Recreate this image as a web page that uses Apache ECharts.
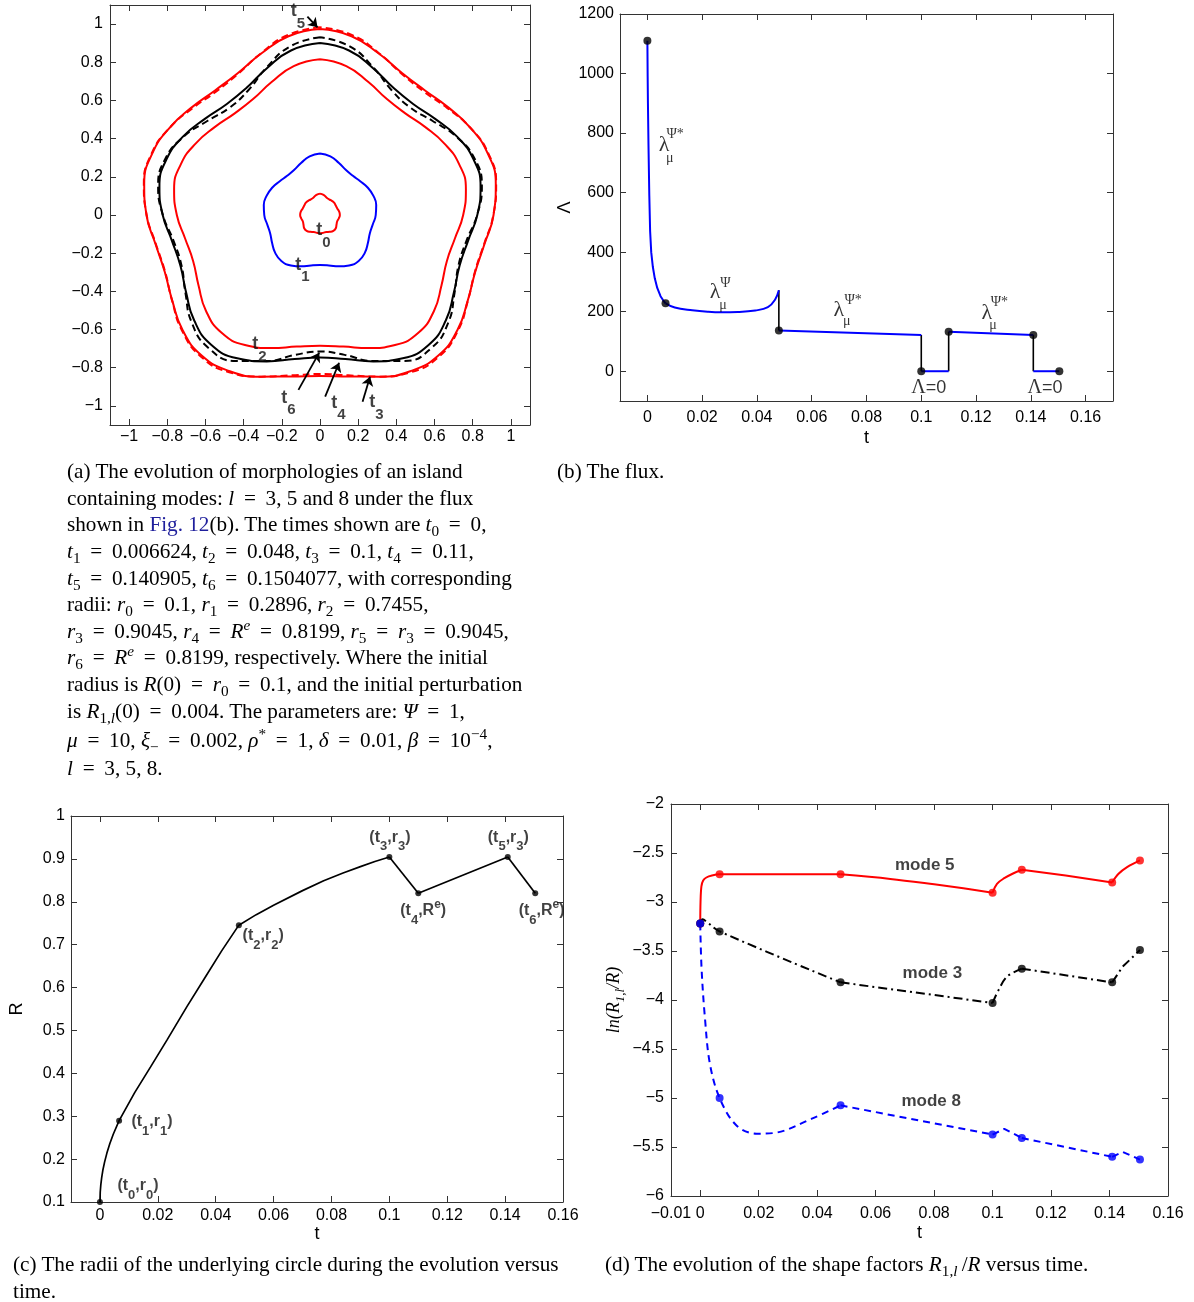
<!DOCTYPE html>
<html>
<head>
<meta charset="utf-8">
<script src="https://cdn.jsdelivr.net/npm/echarts@6/dist/echarts.min.js"></script>
<style>
  body { margin: 0; background: #fff; }
  #chart { position: absolute; left: 0; top: 0; width: 1194px; height: 1302px; }
  .cap { position: absolute; font-family: 'Liberation Serif', 'Times New Roman', serif; font-size: 21.2px;
         color: #000; white-space: nowrap; line-height: 26px; }
  .cap i { font-style: italic; }
  .cap sub, .cap sup { font-size: 0.72em; line-height: 0; }
  .cap sub { vertical-align: -0.32em; }
  .cap sup { vertical-align: 0.55em; }
  .cap .eq { margin: 0 0.46em; }
  .fig { color: #1f1f9c; }
</style>
</head>
<body>
<div id="chart"></div>

<div class="cap" style="left:67px;top:458px">(a) The evolution of morphologies of an island</div>
<div class="cap" style="left:67px;top:485px">containing modes: <i>l</i> = 3, 5 and 8 under the flux</div>
<div class="cap" style="left:67px;top:511px">shown in <span class="fig">Fig. 12</span>(b). The times shown are <i>t</i><sub>0</sub> = 0,</div>
<div class="cap" style="left:67px;top:538px"><i>t</i><sub>1</sub> = 0.006624, <i>t</i><sub>2</sub> = 0.048, <i>t</i><sub>3</sub> = 0.1, <i>t</i><sub>4</sub> = 0.11,</div>
<div class="cap" style="left:67px;top:565px"><i>t</i><sub>5</sub> = 0.140905, <i>t</i><sub>6</sub> = 0.1504077, with corresponding</div>
<div class="cap" style="left:67px;top:591px">radii: <i>r</i><sub>0</sub> = 0.1, <i>r</i><sub>1</sub> = 0.2896, <i>r</i><sub>2</sub> = 0.7455,</div>
<div class="cap" style="left:67px;top:618px"><i>r</i><sub>3</sub> = 0.9045, <i>r</i><sub>4</sub> = <i>R</i><sup><i>e</i></sup> = 0.8199, <i>r</i><sub>5</sub> = <i>r</i><sub>3</sub> = 0.9045,</div>
<div class="cap" style="left:67px;top:644px"><i>r</i><sub>6</sub> = <i>R</i><sup><i>e</i></sup> = 0.8199, respectively. Where the initial</div>
<div class="cap" style="left:67px;top:671px">radius is <i>R</i>(0) = <i>r</i><sub>0</sub> = 0.1, and the initial perturbation</div>
<div class="cap" style="left:67px;top:698px">is <i>R</i><sub>1,<i>l</i></sub>(0) = 0.004. The parameters are: <i>Ψ</i> = 1,</div>
<div class="cap" style="left:67px;top:727px"><i>μ</i> = 10, <i>ξ</i><sub>−</sub> = 0.002, <i>ρ</i><sup>*</sup> = 1, <i>δ</i> = 0.01, <i>β</i> = 10<sup>−4</sup>,</div>
<div class="cap" style="left:67px;top:755px"><i>l</i> = 3, 5, 8.</div>

<div class="cap" style="left:557px;top:458px">(b) The flux.</div>

<div class="cap" style="left:13px;top:1251px">(c) The radii of the underlying circle during the evolution versus</div>
<div class="cap" style="left:13px;top:1278px">time.</div>

<div class="cap" style="left:605px;top:1251px">(d) The evolution of the shape factors <i>R</i><sub>1,<i>l</i></sub>&thinsp;/<i>R</i> versus time.</div>

<script>
// typeset "=" with math spacing in the captions
document.querySelectorAll('.cap').forEach(el => { el.innerHTML = el.innerHTML.replace(/ = /g, '<span class="eq">=</span>'); });

// ======================= DATA =======================
// (a) island morphologies: radius vs polar angle (deg, counter-clockwise from the top)
const angA = [0,10,20,30,40,50,60,70,80,90,100,110,120,130,140,150,160,170,180,190,200,210,220,230,240,250,260,270,280,290,300,310,320,330,340,350,360];
const rT0 = [0.112,0.107,0.098,0.095,0.097,0.098,0.096,0.097,0.102,0.104,0.100,0.096,0.100,0.108,0.109,0.102,0.095,0.095,0.096,0.095,0.095,0.102,0.109,0.108,0.100,0.096,0.100,0.104,0.102,0.097,0.096,0.098,0.097,0.095,0.098,0.107,0.112];
const rT1 = [0.322,0.312,0.290,0.272,0.268,0.275,0.288,0.297,0.299,0.292,0.281,0.278,0.290,0.307,0.315,0.305,0.286,0.268,0.262,0.268,0.286,0.305,0.315,0.307,0.290,0.278,0.281,0.292,0.299,0.297,0.288,0.275,0.268,0.272,0.290,0.312,0.322];
const rT2 = [0.816,0.792,0.741,0.701,0.695,0.718,0.751,0.776,0.776,0.750,0.717,0.707,0.735,0.780,0.804,0.786,0.742,0.700,0.685,0.700,0.742,0.786,0.804,0.780,0.735,0.707,0.717,0.750,0.776,0.776,0.751,0.718,0.695,0.701,0.741,0.792,0.816];
const rT3 = [0.974,0.951,0.900,0.859,0.853,0.877,0.911,0.936,0.935,0.909,0.875,0.866,0.894,0.939,0.962,0.945,0.901,0.859,0.843,0.859,0.901,0.945,0.962,0.939,0.894,0.866,0.875,0.909,0.935,0.936,0.911,0.877,0.853,0.859,0.900,0.951,0.974];
const rT4 = [0.901,0.875,0.817,0.769,0.759,0.785,0.826,0.855,0.854,0.824,0.787,0.778,0.810,0.860,0.887,0.867,0.816,0.766,0.746,0.766,0.816,0.867,0.887,0.860,0.810,0.778,0.787,0.824,0.854,0.855,0.826,0.785,0.759,0.769,0.817,0.875,0.901];
const rT5 = [0.983,0.958,0.902,0.855,0.845,0.871,0.911,0.939,0.937,0.908,0.873,0.864,0.895,0.943,0.969,0.951,0.901,0.853,0.833,0.853,0.901,0.951,0.969,0.943,0.895,0.864,0.873,0.908,0.937,0.939,0.911,0.871,0.845,0.855,0.902,0.958,0.983];
const rT6 = [0.931,0.897,0.821,0.753,0.735,0.768,0.823,0.862,0.861,0.823,0.779,0.772,0.814,0.877,0.909,0.883,0.814,0.744,0.715,0.744,0.814,0.883,0.909,0.877,0.814,0.772,0.779,0.823,0.861,0.862,0.823,0.768,0.735,0.753,0.821,0.897,0.931];
const ticksA = [-1,-0.8,-0.6,-0.4,-0.2,0,0.2,0.4,0.6,0.8,1];
// labels "t_i" in (a): x, y, subscript
const labA = [[-0.116,1.039,'5'],[0.018,-0.110,'0'],[-0.092,-0.289,'1'],[-0.317,-0.706,'2'],[-0.166,-0.986,'6'],[0.096,-1.012,'4'],[0.296,-1.010,'3']];
// arrows in (a): x1, y1, x2, y2
const arrA = [[-0.113,-0.916,-0.004,-0.721],[0.027,-0.951,0.100,-0.774],[0.223,-0.978,0.262,-0.847],[-0.066,1.039,-0.013,0.983]];

// key times
const keyT = [0, 0.006624, 0.048, 0.1, 0.11, 0.140905, 0.1504077];

// (b) flux
const fluxT1 = [0, 0.0001, 0.0002, 0.0004, 0.0007, 0.001, 0.0014, 0.002, 0.0027, 0.0036, 0.0048, 0.0057, 0.006624];
const fluxV1 = [1110, 990, 900, 760, 590, 470, 400, 350, 312, 280, 252, 239, 228];
const fluxT2 = [0.006624, 0.01, 0.0164, 0.022, 0.0268, 0.033, 0.0394, 0.044, 0.0466, 0.048];
const fluxV2 = [228, 214, 205, 200, 198, 199, 204, 215, 240, 272];
const fluxT3 = [0.048, 0.1];          const fluxV3 = [137, 122];
const fluxT4 = [0.1, 0.11];           const fluxV4 = [0, 0];
const fluxT5 = [0.11, 0.140905];      const fluxV5 = [133, 122];
const fluxT6 = [0.140905, 0.1504077]; const fluxV6 = [0, 0];
const jumpT = [0.048, 0.1, 0.11, 0.140905];
const jumpFrom = [272, 122, 0, 122];
const jumpTo = [137, 0, 133, 0];
const fluxKey = [1110, 228, 137, 0, 133, 122, 0];
const ticksBX = [0,0.02,0.04,0.06,0.08,0.1,0.12,0.14,0.16];
const ticksBY = [0,200,400,600,800,1000,1200];

// (c) radius of the underlying circle
const radT = [0, 0.0001, 0.0003, 0.0006, 0.001, 0.0016, 0.0024, 0.0034, 0.0046, 0.006624, 0.012, 0.0175, 0.0232, 0.03, 0.036, 0.042, 0.048, 0.054, 0.06, 0.07, 0.0773, 0.084, 0.09, 0.095, 0.1, 0.11, 0.140905, 0.1504077];
const radR = [0.1, 0.123, 0.14, 0.157, 0.174, 0.193, 0.214, 0.236, 0.258, 0.2896, 0.355, 0.415, 0.478, 0.555, 0.62, 0.685, 0.7455, 0.770, 0.792, 0.826, 0.849, 0.867, 0.882, 0.894, 0.9045, 0.8199, 0.9045, 0.8199];
const radKey = [0.1, 0.2896, 0.7455, 0.9045, 0.8199, 0.9045, 0.8199];
const ticksCY = [0.1,0.2,0.3,0.4,0.5,0.6,0.7,0.8,0.9,1];

// (d) shape factors ln(R_{1,l}/R)
const m5T = [0, 0.0001, 0.0004, 0.001, 0.0021, 0.004, 0.006624, 0.048, 0.065, 0.08, 0.09, 0.1, 0.1015, 0.104, 0.107, 0.11, 0.125, 0.140905, 0.143, 0.146, 0.1504077];
const m5V = [-3.22, -3.0, -2.84, -2.78, -2.75, -2.73, -2.718, -2.718, -2.765, -2.82, -2.86, -2.905, -2.814, -2.757, -2.709, -2.671, -2.73, -2.80, -2.715, -2.645, -2.576];
const m3T = [0, 0.0008, 0.0025, 0.006624, 0.048, 0.1, 0.102, 0.105, 0.11, 0.140905, 0.1445, 0.1504077];
const m3V = [-3.22, -3.175, -3.21, -3.30, -3.82, -4.03, -3.90, -3.76, -3.68, -3.82, -3.66, -3.49];
const m8T = [0, 0.00044, 0.0016, 0.0033, 0.006624, 0.0124, 0.0193, 0.0252, 0.0382, 0.048, 0.1, 0.104, 0.11, 0.140905, 0.1445, 0.1504077];
const m8V = [-3.22, -3.67, -4.18, -4.65, -5.0, -5.28, -5.364, -5.357, -5.21, -5.075, -5.373, -5.315, -5.408, -5.60, -5.55, -5.628];
const ticksDX = [-0.01,0,0.02,0.04,0.06,0.08,0.1,0.12,0.14,0.16];
const ticksDY = [-6,-5.5,-5,-4.5,-4,-3.5,-3,-2.5,-2];
const breaksT = [0.048, 0.1, 0.11, 0.140905];

// ======================= STYLE =======================
const SANS = "'Liberation Sans', Arial, Helvetica, sans-serif";
const SERIF = "'Liberation Serif', 'Times New Roman', serif";
const AX = '#333';
const RED = '#ff0000', BLUE = '#0000ff', BLACK = '#000000';
const minus = v => (v < 0 ? '\u2212' : '') + Math.abs(v);

function axisPair(kind, gridIndex, min, max, tickVals, labelVals, labelOpt, nameOpt) {
  const base = {
    type: 'value', gridIndex, min, max,
    axisLine: { show: true, onZero: false, lineStyle: { color: AX, width: 1 } },
    axisTick: { show: true, inside: true, length: 6, customValues: tickVals, lineStyle: { color: AX, width: 1 } },
    splitLine: { show: false }
  };
  const main = Object.assign({}, base, {
    position: kind === 'x' ? 'bottom' : 'left',
    axisLabel: Object.assign({ show: true, customValues: labelVals, formatter: minus, color: '#000',
      fontFamily: SANS, fontSize: 16 }, labelOpt || {})
  }, nameOpt || {});
  const mirror = Object.assign({}, base, { position: kind === 'x' ? 'top' : 'right', axisLabel: { show: false } });
  return [main, mirror];
}

const nameStyle = { fontFamily: SANS, fontSize: 18, color: '#000' };

const xAxes = [].concat(
  axisPair('x', 0, -1.1, 1.1, ticksA, ticksA, { margin: 4 }),
  axisPair('x', 1, -0.01, 0.17, ticksBX, ticksBX, { margin: 9 },
    { name: 't', nameLocation: 'middle', nameGap: 28, nameTextStyle: nameStyle }),
  axisPair('x', 2, -0.01, 0.16, ticksBX, ticksBX, { margin: 6 },
    { name: 't', nameLocation: 'middle', nameGap: 22, nameTextStyle: nameStyle }),
  axisPair('x', 3, -0.01, 0.16, ticksDX, ticksDX, { margin: 10 },
    { name: 't', nameLocation: 'middle', nameGap: 28, nameTextStyle: nameStyle })
);
const yAxes = [].concat(
  axisPair('y', 0, -1.1, 1.1, ticksA, ticksA, { margin: 7 }),
  axisPair('y', 1, -100, 1200, ticksBY, ticksBY, { margin: 6 },
    { name: 'Λ', nameLocation: 'middle', nameGap: 46, nameRotate: 90, nameTextStyle: nameStyle }),
  axisPair('y', 2, 0.1, 1, ticksCY, ticksCY, { margin: 6 },
    { name: 'R', nameLocation: 'middle', nameGap: 45, nameRotate: 90, nameTextStyle: nameStyle }),
  axisPair('y', 3, -6, -2, ticksDY, ticksDY, { margin: 7 },
    { name: '{i|ln(R}{s|1,l}{i|/R)}', nameLocation: 'middle', nameGap: 44, nameRotate: 90,
      nameTextStyle: { rich: {
        i: { fontFamily: SERIF, fontStyle: 'italic', fontSize: 18, color: '#000', verticalAlign: 'top' },
        s: { fontFamily: SERIF, fontStyle: 'italic', fontSize: 13, color: '#000', verticalAlign: 'top', padding: [9, 0, 0, 0] }
      } } })
);

const RICH = {
  t:  { fontFamily: SANS, fontSize: 18, fontWeight: 'bold', color: '#111', verticalAlign: 'top' },
  ts: { fontFamily: SANS, fontSize: 15, fontWeight: 'bold', color: '#111', verticalAlign: 'top', padding: [14, 0, 0, 0] },
  b:  { fontFamily: SANS, fontSize: 16, fontWeight: 'bold', color: '#111', verticalAlign: 'top', padding: [4, 0, 0, 0] },
  bs: { fontFamily: SANS, fontSize: 13, fontWeight: 'bold', color: '#111', verticalAlign: 'top', padding: [15, 0, 0, 0] },
  bp: { fontFamily: SANS, fontSize: 12, fontWeight: 'bold', color: '#111', verticalAlign: 'top' },
  lam: { fontFamily: SERIF, fontSize: 22, color: '#000' },
  gs: { fontFamily: SERIF, fontSize: 14, color: '#000' },
  gL: { fontFamily: SERIF, fontSize: 20, color: '#000' },
  n:  { fontFamily: SANS, fontSize: 18, color: '#000' },
  md: { fontFamily: SANS, fontSize: 17, fontWeight: 'bold', color: '#111' }
};

function annSeries(xi, yi, items) {
  return {
    type: 'scatter', xAxisIndex: xi, yAxisIndex: yi, symbol: 'circle', symbolSize: 1,
    itemStyle: { color: 'rgba(0,0,0,0)' }, silent: true, z: 20,
    data: items.map(it => ({ value: [it[0], it[1]],
      label: { show: true, position: 'inside', formatter: it[2], rich: RICH } }))
  };
}

function pts(ts, vs) { return ts.map((t, i) => [t, vs[i]]); }
function splitAt(ts, vs, breaks) {
  const segs = []; let cur = [];
  ts.forEach((t, i) => {
    cur.push([t, vs[i]]);
    if (i > 0 && i < ts.length - 1 && breaks.indexOf(t) >= 0) { segs.push(cur); cur = [[t, vs[i]]]; }
  });
  segs.push(cur);
  return segs;
}
function keyPts(ts, vs) { return ts.map((t, i) => [t, vs[i]]).filter(p => keyT.indexOf(p[0]) >= 0); }

const series = [];

// ---------- (a)
[[rT3, RED, 'solid'], [rT5, RED, [7, 4]], [rT4, BLACK, 'solid'], [rT6, BLACK, [7, 4]],
 [rT2, RED, 'solid'], [rT1, BLUE, 'solid'], [rT0, RED, 'solid']].forEach(c => {
  series.push({ type: 'line', coordinateSystem: 'polar', polarIndex: 0,
    data: c[0].map((r, i) => [r, angA[i]]), smooth: 0.5, symbol: 'none', silent: true,
    lineStyle: { color: c[1], width: 2, type: c[2] } });
});
series.push({ type: 'lines', coordinateSystem: 'cartesian2d', xAxisIndex: 0, yAxisIndex: 0,
  symbol: ['none', 'arrow'], symbolSize: 9, silent: true, z: 15,
  lineStyle: { color: BLACK, width: 1.8, opacity: 1, curveness: 0 },
  data: arrA.map(a => ({ coords: [[a[0], a[1]], [a[2], a[3]]] })) });
series.push(annSeries(0, 0, labA.map(l => [l[0], l[1], '{t|t}{ts|' + l[2] + '}'])));

// ---------- (b)
jumpT.forEach((t, i) => series.push({ type: 'line', xAxisIndex: 2, yAxisIndex: 2, symbol: 'none', silent: true,
  data: [[t, jumpFrom[i]], [t, jumpTo[i]]], lineStyle: { color: BLACK, width: 1.6 } }));
[[fluxT1, fluxV1, false], [fluxT2, fluxV2, 0.4], [fluxT3, fluxV3, false], [fluxT4, fluxV4, false],
 [fluxT5, fluxV5, false], [fluxT6, fluxV6, false]].forEach(s => {
  series.push({ type: 'line', xAxisIndex: 2, yAxisIndex: 2, symbol: 'none', silent: true,
    data: pts(s[0], s[1]), smooth: s[2], lineStyle: { color: BLUE, width: 2 } });
});
series.push({ type: 'scatter', xAxisIndex: 2, yAxisIndex: 2, symbolSize: 8, silent: true, z: 10,
  itemStyle: { color: BLACK }, data: pts(keyT, fluxKey) });
series.push(annSeries(2, 2, [
  [0.0061, 758, '{lam|λ}'], [0.0101, 797, '{gs|Ψ*}'], [0.0082, 714, '{gs|μ}'],
  [0.0247, 267, '{lam|λ}'], [0.0285, 295, '{gs|Ψ}'], [0.0276, 222, '{gs|μ}'],
  [0.0699, 205, '{lam|λ}'], [0.0751, 239, '{gs|Ψ*}'], [0.0728, 166, '{gs|μ}'],
  [0.1239, 194, '{lam|λ}'], [0.1285, 233, '{gs|Ψ*}'], [0.1262, 155, '{gs|μ}'],
  [0.1027, -57, '{gL|Λ}{n|=0}'], [0.1452, -57, '{gL|Λ}{n|=0}']
]));

// ---------- (c)
splitAt(radT, radR, breaksT).forEach(seg => {
  series.push({ type: 'line', xAxisIndex: 4, yAxisIndex: 4, symbol: 'none', silent: true,
    data: seg, smooth: false, lineStyle: { color: BLACK, width: 1.7 } });
});
series.push({ type: 'scatter', xAxisIndex: 4, yAxisIndex: 4, symbolSize: 6, silent: true, z: 10,
  itemStyle: { color: BLACK }, data: pts(keyT, radKey) });
series.push(annSeries(4, 4, [
  [0.1002, 0.946, '{b|(t}{bs|3}{b|,r}{bs|3}{b|)}'],
  [0.1411, 0.946, '{b|(t}{bs|5}{b|,r}{bs|3}{b|)}'],
  [0.1117, 0.7745, '{b|(t}{bs|4}{b|,R}{bp|e}{b|)}'],
  [0.1526, 0.7745, '{b|(t}{bs|6}{b|,R}{bp|e}{b|)}'],
  [0.0564, 0.716, '{b|(t}{bs|2}{b|,r}{bs|2}{b|)}'],
  [0.01797, 0.2822, '{b|(t}{bs|1}{b|,r}{bs|1}{b|)}'],
  [0.01313, 0.1327, '{b|(t}{bs|0}{b|,r}{bs|0}{b|)}']
]));

// ---------- (d)
const modes = [
  [m5T, m5V, RED, 'solid'],
  [m3T, m3V, BLACK, [9, 4, 2, 4]],
  [m8T, m8V, BLUE, [7, 5]]
];
modes.forEach(m => {
  splitAt(m[0], m[1], breaksT).forEach(seg => {
    series.push({ type: 'line', xAxisIndex: 6, yAxisIndex: 6, symbol: 'none', silent: true,
      data: seg, smooth: seg.length > 3 ? 0.35 : false,
      lineStyle: { color: m[2], width: 2, type: m[3] } });
  });
});
modes.forEach(m => {
  series.push({ type: 'scatter', xAxisIndex: 6, yAxisIndex: 6, symbolSize: 8, silent: true, z: 10,
    itemStyle: { color: m[2] }, data: keyPts(m[0], m[1]) });
});
series.push(annSeries(6, 6, [
  [0.0768, -2.624, '{md|mode 5}'],
  [0.0794, -3.729, '{md|mode 3}'],
  [0.0790, -5.032, '{md|mode 8}']
]));

const option = {
  animation: false,
  backgroundColor: '#ffffff',
  grid: [
    { left: 110, top: 5, width: 420, height: 420 },
    { left: 620, top: 14, width: 493, height: 387 },
    { left: 71, top: 816, width: 492, height: 386 },
    { left: 671, top: 804, width: 497, height: 392 }
  ],
  polar: [{ center: [320, 215], radius: 210 }],
  angleAxis: [{ polarIndex: 0, type: 'value', min: 0, max: 360, startAngle: 90, clockwise: false, show: false }],
  radiusAxis: [{ polarIndex: 0, type: 'value', min: 0, max: 1.1, show: false }],
  xAxis: xAxes,
  yAxis: yAxes,
  series: series
};

const chart = echarts.init(document.getElementById('chart'), null, { renderer: 'canvas' });
chart.setOption(option);
</script>
</body>
</html>
